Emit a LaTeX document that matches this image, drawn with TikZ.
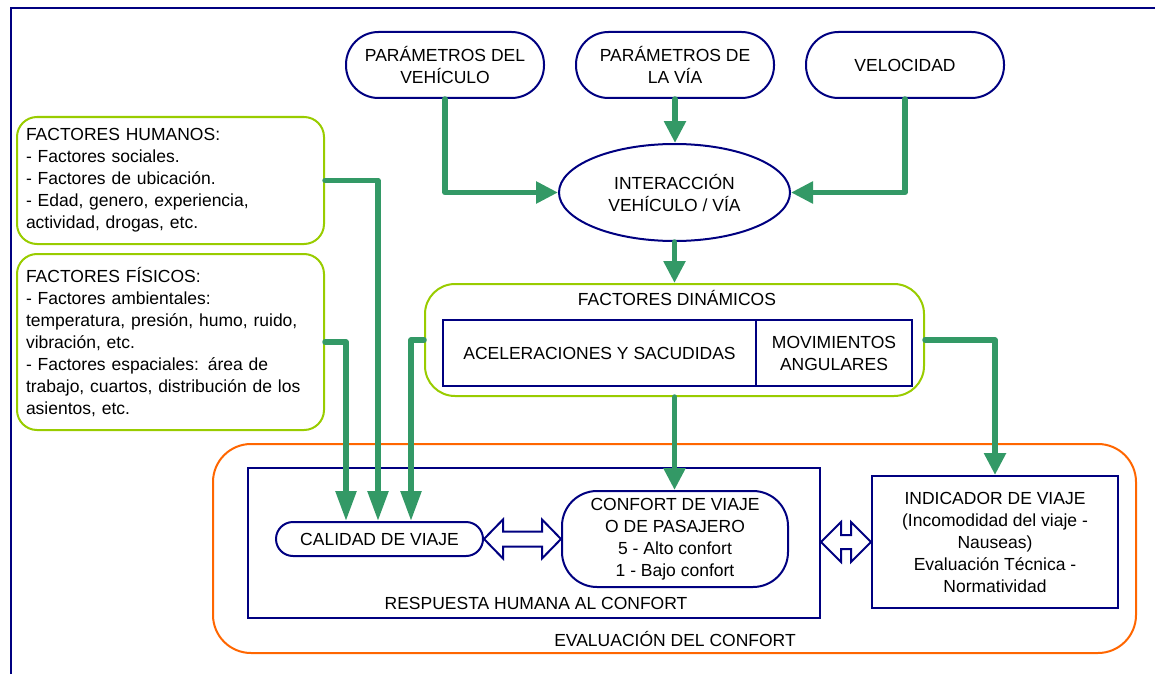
\documentclass[tikz,border=0pt]{standalone}
\usepackage{fontspec}
\setmainfont{Liberation Sans}
\usetikzlibrary{arrows.meta,shapes.geometric,calc}
\definecolor{navyline}{RGB}{0,0,128}
\definecolor{linkgreen}{RGB}{51,153,102}
\definecolor{limeline}{RGB}{153,204,0}
\definecolor{evalorange}{RGB}{255,102,0}

\begin{document}
\begin{tikzpicture}[x=1pt,y=-1pt,
  every node/.style={font=\fontsize{17.5}{22}\selectfont, text=black},
  stadium/.style={draw=navyline, line width=2pt, rounded corners=32.5pt,
    minimum width=198pt, minimum height=66pt, align=center, inner sep=0pt},
  navybox/.style={draw=navyline, line width=2pt, align=center, inner sep=0pt},
  limebox/.style={draw=limeline, line width=2pt, rounded corners=20pt,
    align=left, inner xsep=9pt, inner ysep=0pt, text width=289pt},
  label/.style={inner sep=0pt, align=center},
  link/.style={draw=linkgreen, line width=5.5pt, line cap=round, line join=round},
  arr/.style={link, -{Triangle[length=22pt,width=21pt]}},
  arrlong/.style={link, -{Triangle[length=30pt,width=20pt]}},
  hollow/.style={draw=navyline, line width=2pt, fill=white, line join=miter}
]
\useasboundingbox (0,0) rectangle (1155,674);

% page frame
\draw[navyline, line width=2pt] (11,674) -- (11,8) -- (1155,8);

% containers
\node[draw=evalorange, line width=2pt, rounded corners=38pt,
  minimum width=923pt, minimum height=209pt, inner sep=0pt] (eval) at (674.5,548.5) {};
\node[label] (evallbl) at (675,639) {EVALUACIÓN DEL CONFORT};
\node[navybox, minimum width=572pt, minimum height=150pt] (resp) at (534,543) {};
\node[label] (resplbl) at (536,603) {RESPUESTA HUMANA AL CONFORT};

% inputs
\node[stadium] (pveh) at (445,65) {PARÁMETROS DEL\\VEHÍCULO};
\node[stadium] (pvia) at (675,65) {PARÁMETROS DE\\LA VÍA};
\node[stadium] (vel) at (905,65) {VELOCIDAD};
\node[draw=navyline, line width=2pt, ellipse, minimum width=231pt,
  minimum height=97pt, inner sep=0pt, align=center] (inter) at (674.5,192.5)
  {INTERACCIÓN\\VEHÍCULO / VÍA};

% human and physical factors
\node[limebox, minimum height=127pt] (humanos) at (170.5,180.5)
  {FACTORES HUMANOS:\\- Factores sociales.\\- Factores de ubicación.\\- Edad, genero, experiencia,\\actividad, drogas, etc.};
\node[limebox, minimum height=176pt] (fisicos) at (170.5,342)
  {FACTORES FÍSICOS:\\- Factores ambientales:\\temperatura, presión, humo, ruido,\\vibración, etc.\\- Factores espaciales: área de\\trabajo, cuartos, distribución de los\\asientos, etc.};

% dynamic factors
\node[draw=limeline, line width=2pt, rounded corners=30pt, minimum width=499pt,
  minimum height=112pt, inner sep=0pt] (dinam) at (674.5,340) {};
\node[label] (dtitle) at (677,298) {FACTORES DINÁMICOS};
\node[navybox, minimum width=313pt, minimum height=66pt] (acel) at (599.5,353)
  {ACELERACIONES Y SACUDIDAS};
\node[navybox, minimum width=156pt, minimum height=66pt] (movi) at (834,353)
  {MOVIMIENTOS\\ANGULARES};

% comfort evaluation
\node[draw=navyline, line width=2pt, rounded corners=17pt, minimum width=207pt,
  minimum height=34pt, inner sep=0pt] (calidad) at (379.5,539) {CALIDAD DE VIAJE};
\node[draw=navyline, line width=2pt, rounded corners=35pt, minimum width=226pt,
  minimum height=96pt, inner sep=0pt, align=center] (confort) at (675,539)
  {CONFORT DE VIAJE\\O DE PASAJERO\\5 - Alto confort\\1 - Bajo confort};
\node[navybox, minimum width=246pt, minimum height=132pt] (indic) at (995,542)
  {INDICADOR DE VIAJE\\(Incomodidad del viaje -\\Nauseas)\\Evaluación Técnica -\\Normatividad};

% two-way links
\coordinate (la) at (calidad.east);
\coordinate (lb) at (confort.west);
\draw[hollow] (la) -- ++(19,-19.5) -- ++(0,12) -- ($(lb)+(-19,-7.5)$) -- ++(0,-12)
  -- (lb) -- ++(-19,19.5) -- ++(0,-12) -- ($(la)+(19,7.5)$) -- ++(0,12) -- cycle;
\coordinate (ra) at (resp.east |- indic.west);
\coordinate (rb) at (indic.west);
\draw[hollow] (ra) -- ++(20,-20) -- ++(0,13) -- ($(rb)+(-20,-7)$) -- ++(0,-13)
  -- (rb) -- ++(-20,20) -- ++(0,-13) -- ($(ra)+(20,7)$) -- ++(0,13) -- cycle;

% flow connectors
\draw[arr] (pveh.south) |- (inter.west);
\draw[arr] (pvia.south) -- (pvia.south |- inter.north);
\draw[arr] (vel.south) |- (inter.east);
\draw[arr] (inter.south) -- (inter.south |- dinam.north);
\draw[arrlong] (fisicos.east) -| ($(calidad.north)+(-33.5,0)$);
\draw[arrlong] (humanos.east) -| ($(calidad.north)+(-1.5,0)$);
\draw[arrlong] (dinam.west) -| ($(calidad.north)+(31.5,0)$);
\draw[arr] (dinam.south) -- (dinam.south |- confort.north);
\draw[arr] (dinam.east) -| (indic.north);
\end{tikzpicture}
\end{document}
